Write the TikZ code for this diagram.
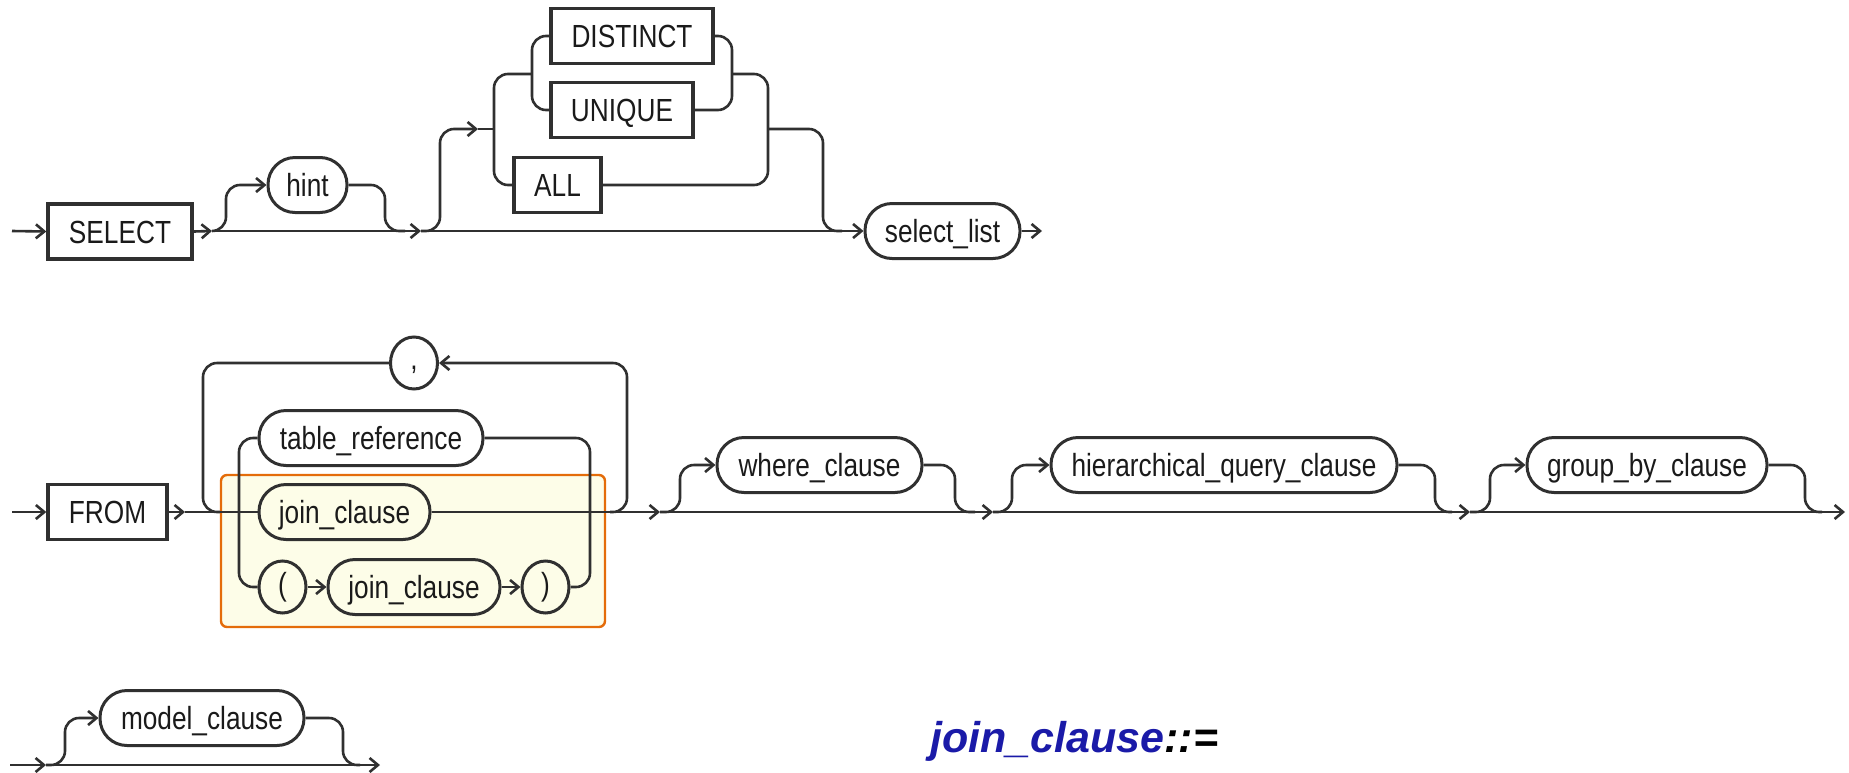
\documentclass[tikz,border=0pt]{standalone}
\usepackage{fontspec}
\setmainfont{Liberation Sans}[FakeStretch=0.82]
\newfontfamily\headfont{Liberation Sans}
\usetikzlibrary{arrows.meta,shapes.geometric}
\definecolor{ink}{HTML}{303030}
\definecolor{labelink}{HTML}{1A1A1A}
\definecolor{hlfill}{HTML}{FDFDE8}
\definecolor{hledge}{HTML}{E46C0A}
\definecolor{titleblue}{HTML}{1A1AA8}

\begin{document}
\begin{tikzpicture}[x=0.5pt, y=-0.5pt,
  line/.style={draw=ink, line width=1.3pt},
  rc/.style={line, rounded corners=7pt},
  arr/.style={line, -{Straight Barb[length=4.2pt,width=7pt]}},
  kw/.style={draw=ink, line width=1.7pt, minimum height=27.5pt, inner sep=0pt,
    text height=11.5pt, text depth=0pt, text=labelink,
    font=\fontsize{16pt}{19pt}\selectfont},
  ref/.style={kw, rounded corners=13.5pt, line width=1.5pt},
  sym/.style={draw=ink, line width=1.5pt, ellipse, minimum width=23.5pt,
    minimum height=26pt, inner sep=0pt, text=labelink,
    font=\fontsize{16pt}{19pt}\selectfont}
]
\useasboundingbox (0,0) rectangle (1849,772);

% highlighted alternative group
\draw[draw=hledge, fill=hlfill, line width=1.2pt, rounded corners=3pt]
  (221,475) rectangle (605,627);

% ---------------- SELECT row ----------------
\node[kw, minimum width=72pt]   (sel)  at (120,231.5) {SELECT};
\node[ref, minimum width=39.5pt] (hint) at (307.5,185) {hint};
\node[kw, minimum width=81pt]   (dist) at (632,36) {DISTINCT};
\node[kw, minimum width=71pt]   (uniq) at (622,110) {UNIQUE};
\node[kw, minimum width=43.5pt] (all)  at (557.5,185) {ALL};
\node[ref, minimum width=77.5pt] (sl)  at (942.5,231) {select\_list};

\coordinate (a0) at (12,231);
\coordinate (a1) at (212,231);
\coordinate (a2) at (421,231);
\coordinate (a3) at (478,129);
\coordinate (a4) at (1042,231);

\draw[arr] (a0) -- (sel.west);
\draw[arr] (sel.east) -- (a1);
\draw[arr] (a1) -- (a2);
\draw[arr, rc] (a1) -| (226,185) -- (hint.west);
\draw[rc] (hint.east) -| (385,231) -- (405,231);

\draw[arr, rc] (a2) -| (440,129) -- (a3);
\draw[line] (a3) -- (494,129);
\draw[rc] (532,74) -- (494,74) -- (494,185) -- (all.west);
\draw[rc] (dist.west) -- (532,36) -- (532,110) -- (uniq.west);
\draw[rc] (dist.east) -- (732,36) -- (732,110) -- (uniq.east);
\draw[rc] (all.east) -- (768,185) -- (768,74) -- (732,74);
\draw[rc] (768,129) -| (823,231) -- (842,231);
\draw[arr] (a2) -- (sl.west);
\draw[arr] (sl.east) -- (a4);

% ---------------- FROM row ----------------
\node[kw, minimum width=59.5pt]  (from)  at (107.5,512) {FROM};
\node[sym, text height=6pt, text depth=0pt] (comma) at (414,363) {,};
\node[ref, minimum width=112pt]  (tref)  at (371,438) {table\_reference};
\node[ref, minimum width=85.5pt] (jc1)   at (344.5,512) {join\_clause};
\node[sym, text height=11.7pt, text depth=3.4pt] (lp) at (282.5,587) {(};
\node[ref, minimum width=86pt]   (jc2)   at (414,587) {join\_clause};
\node[sym, text height=11.7pt, text depth=3.4pt] (rp) at (545.5,587) {)};
\node[ref, minimum width=102.5pt] (where) at (819.5,465) {where\_clause};
\node[ref, minimum width=173pt]  (hqc)   at (1224,465) {hierarchical\_query\_clause};
\node[ref, minimum width=120pt]  (gbc)   at (1647,465) {group\_by\_clause};

\coordinate (b0) at (12,512);
\coordinate (b1) at (185,512);
\coordinate (b2) at (660,512);
\coordinate (b3) at (993,512);
\coordinate (b4) at (1470,512);
\coordinate (b5) at (1845,512);

\draw[arr] (b0) -- (from.west);
\draw[arr] (from.east) -- (b1);
\draw[line] (b1) -- (jc1.west);
\draw[rc] (tref.west) -- (239,438) -- (239,587) -- (lp.west);
\draw[arr] (lp.east) -- (jc2.west);
\draw[arr] (jc2.east) -- (rp.west);
\draw[rc] (tref.east) -- (590,438) -- (590,587) -- (rp.east);
\draw[arr] (jc1.east) -- (b2);
\draw[arr, rc] (610,512) -- (627,512) -- (627,363) -- (comma.east);
\draw[rc] (comma.west) -- (203,363) -- (203,512) -- (220,512);

\draw[arr] (b2) -- (b3);
\draw[arr, rc] (b2) -| (680,465) -- (where.west);
\draw[rc] (where.east) -| (955,512) -- (975,512);
\draw[arr, rc] (b3) -| (1012,465) -- (hqc.west);
\draw[rc] (hqc.east) -| (1435,512) -- (1452,512);
\draw[arr] (b3) -- (b4);
\draw[arr, rc] (b4) -| (1490,465) -- (gbc.west);
\draw[rc] (gbc.east) -| (1805,512) -- (1822,512);
\draw[arr] (b4) -- (b5);

% ---------------- MODEL row ----------------
\node[ref, minimum width=102pt] (model) at (202,718) {model\_clause};

\coordinate (c0) at (10,765);
\coordinate (c1) at (46,765);
\coordinate (c2) at (380,765);

\draw[arr] (c0) -- (c1);
\draw[arr, rc] (c1) -| (65,718) -- (model.west);
\draw[rc] (model.east) -| (343,765) -- (360,765);
\draw[arr] (c1) -- (c2);

% heading of the next rule
\node[anchor=base west, inner sep=0pt,
  font=\headfont\fontsize{21.5pt}{25pt}\selectfont\bfseries\itshape]
  (title) at (930,752) {\textcolor{titleblue}{join\_clause}::=};
\end{tikzpicture}
\end{document}
